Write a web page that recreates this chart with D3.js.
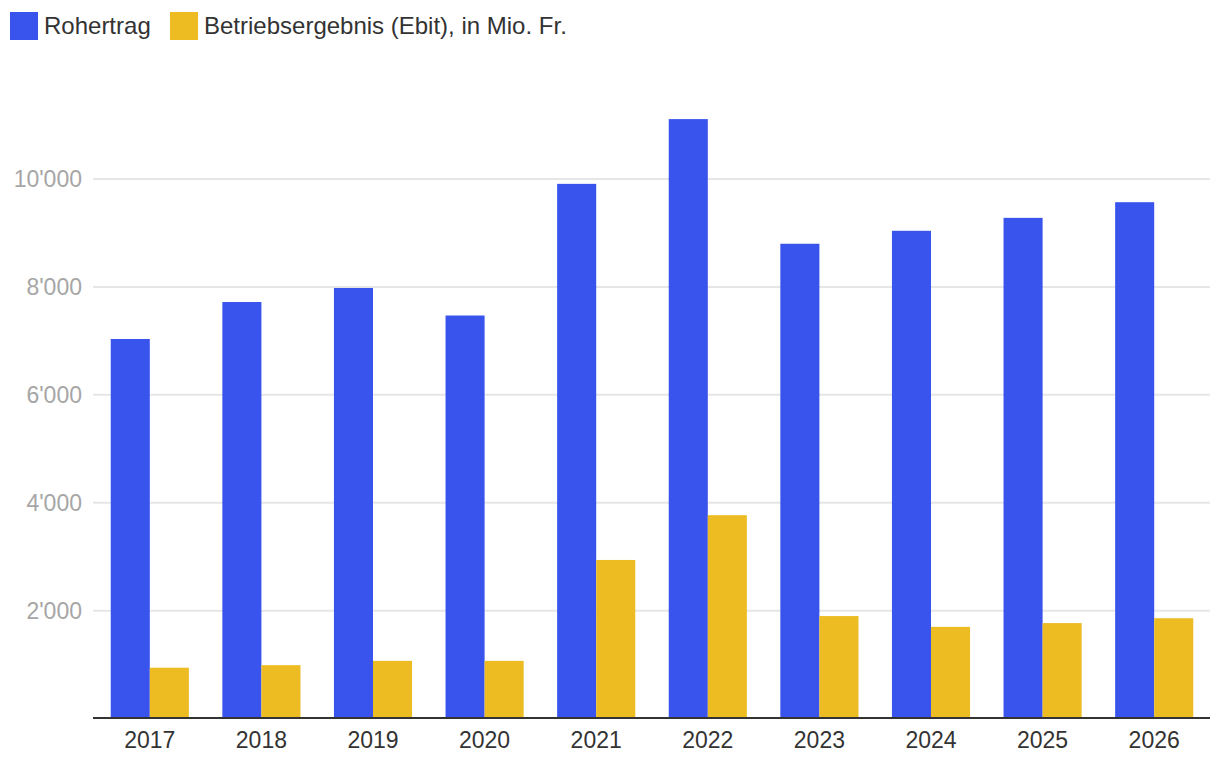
<!DOCTYPE html>
<html><head><meta charset="utf-8">
<script src="https://cdn.jsdelivr.net/npm/d3@7"></script>
<style>body{margin:0;background:#fff;} svg{display:block;font-family:"Liberation Sans",Arial,Helvetica,sans-serif;}</style>
</head><body>
<svg id="c" width="1220" height="770"></svg>
<script>
const years = ["2017","2018","2019","2020","2021","2022","2023","2024","2025","2026"];
const rohertrag = [7035, 7720, 7980, 7470, 9910, 11110, 8800, 9040, 9280, 9570];
const ebit = [943, 990, 1070, 1070, 2940, 3770, 1900, 1700, 1770, 1860];
const seriesNames = ["Rohertrag", "Betriebsergebnis (Ebit), in Mio. Fr."];
const seriesColors = ["#3953ED", "#ECBC22"];
const yTicks = [2000, 4000, 6000, 8000, 10000];

(function () {
const svg = d3.select("#c");
const mLeft = 94, mRight = 1210, mBottom = 718.6;
const x = d3.scaleBand().domain(years).range([mLeft, mRight]).paddingInner(0.3).paddingOuter(0.15);
const y = d3.scaleLinear().domain([0, 10000]).range([mBottom, 179]);
const loc = d3.formatLocale({decimal: ".", thousands: "'", grouping: [3], currency: ["", ""]});
const fmt = loc.format(",d");

// gridlines
svg.append("g").selectAll("line").data(yTicks).join("line")
  .attr("x1", 93).attr("x2", mRight).attr("y1", d => y(d)).attr("y2", d => y(d))
  .attr("stroke", "#e6e6e6").attr("stroke-width", 2);

// y labels
svg.append("g").selectAll("text").data(yTicks).join("text")
  .attr("x", 82).attr("y", d => y(d)).attr("dy", "0.35em")
  .attr("text-anchor", "end").attr("font-size", 23).attr("fill", "#a6a6a6")
  .text(d => fmt(d));

const x1 = d3.scaleBand().domain([0, 1]).range([0, x.bandwidth()]);
const data = years.map((yr, i) => ({yr, vals: [rohertrag[i], ebit[i]]}));
const g = svg.append("g").selectAll("g").data(data).join("g")
  .attr("transform", d => `translate(${x(d.yr)},0)`);
g.selectAll("rect").data(d => d.vals.map((v, k) => ({v, k}))).join("rect")
  .attr("x", d => x1(d.k)).attr("width", x1.bandwidth())
  .attr("y", d => y(d.v)).attr("height", d => y(0) - y(d.v))
  .attr("fill", d => seriesColors[d.k]);

// x axis line
svg.append("line").attr("x1", 93).attr("x2", mRight).attr("y1", 718).attr("y2", 718)
  .attr("stroke", "#333").attr("stroke-width", 2);

// x labels
svg.append("g").selectAll("text").data(years).join("text")
  .attr("x", d => x(d) + x.bandwidth() / 2).attr("y", 740).attr("dy", "0.35em")
  .attr("text-anchor", "middle").attr("font-size", 23).attr("fill", "#333")
  .text(d => d);

// legend
const legX = [10, 170];
const lg = svg.append("g").selectAll("g").data(seriesNames).join("g")
  .attr("transform", (d, i) => `translate(${legX[i]},12)`);
lg.append("rect").attr("width", 28).attr("height", 28).attr("fill", (d, i) => seriesColors[i]);
lg.append("text").attr("x", 34).attr("y", 14).attr("dy", "0.35em")
  .attr("font-size", 24).attr("fill", "#333").text(d => d);
})();
</script>
</body></html>
